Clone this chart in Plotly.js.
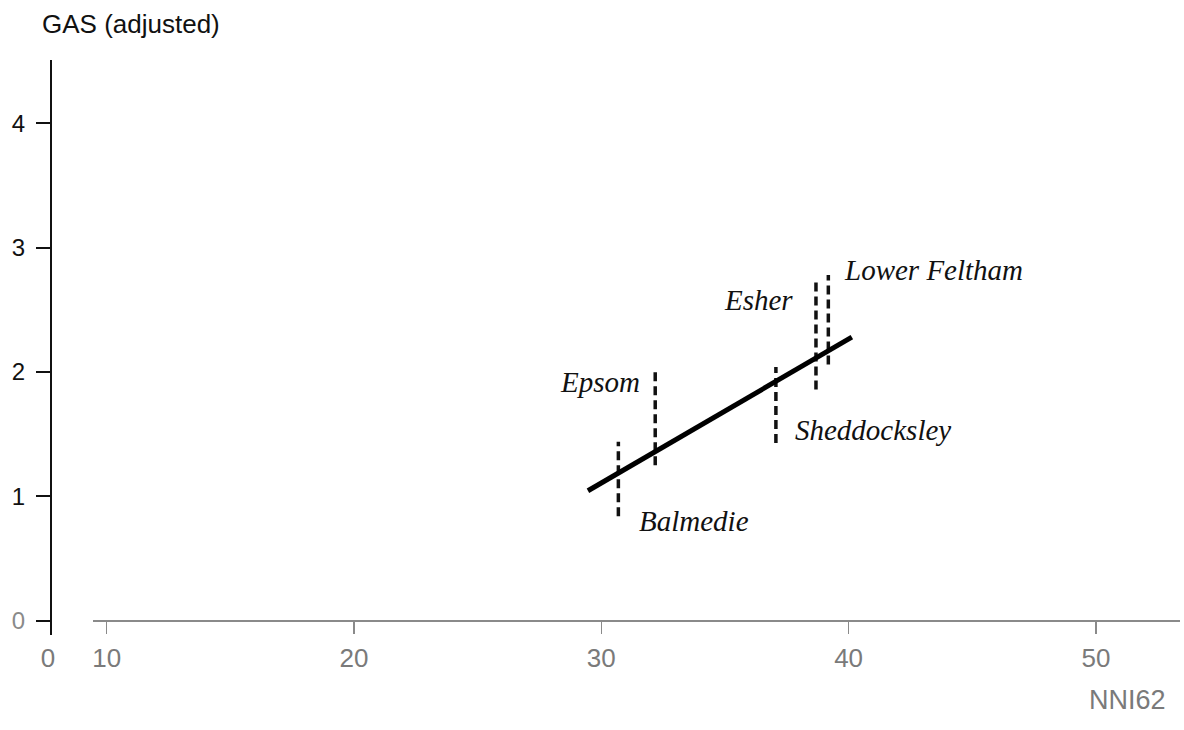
<!DOCTYPE html>
<html>
<head>
<meta charset="utf-8">
<script src="https://cdn.plot.ly/plotly-3.0.1.min.js"></script>
<style>html,body{margin:0;padding:0;background:#fff;}#chart{width:1184px;height:730px;}</style>
</head>
<body>
<div id="chart"></div>
<script>
// Regression line (NNI62 vs adjusted GAS)
const fitX = [29.46, 40.13];
const fitY = [1.045, 2.28];

// Towns: dashed vertical ranges
const towns = ["Balmedie", "Epsom", "Sheddocksley", "Esher", "Lower Feltham"];
const townX = [30.69, 32.18, 37.06, 38.68, 39.18];
const townLow = [0.84, 1.25, 1.43, 1.86, 2.06];
const townHigh = [1.44, 2.00, 2.04, 2.72, 2.78];

// Label positions for towns
const labelX = [31.44, 31.65, 37.75, 37.83, 39.75];
const labelY = [0.80, 1.92, 1.53, 2.58, 2.82];
const labelSide = ["left", "right", "left", "right", "left"];

// Axis ticks
const yTickVals = [0, 1, 2, 3, 4];
const yTickText = ['<span style="color:#8a8a8a">0</span>', "1", "2", "3", "4"];
const xTickVals = [10, 20, 30, 40, 50];
const xTickText = ["10", "20", "30", "40", "50"];
const xBreakVals = [0];
const xBreakText = ["0"];

const W = 1184, H = 730;
const px = p => p / W;
const py = p => (H - p) / H;

const segX = [], segY = [];
townX.forEach((x, i) => { segX.push(x, x, null); segY.push(townLow[i], townHigh[i], null); });

const traces = [
  { x: segX, y: segY, type: "scatter", mode: "lines", xaxis: "x", yaxis: "y",
    line: { color: "#111", width: 3.5, dash: "9px,5px" }, hoverinfo: "skip", showlegend: false },
  { x: fitX, y: fitY, type: "scatter", mode: "lines", xaxis: "x", yaxis: "y",
    line: { color: "#000", width: 5 }, hoverinfo: "skip", showlegend: false },
  { x: [0], y: [0], type: "scatter", mode: "markers", xaxis: "x2", yaxis: "y",
    marker: { opacity: 0 }, hoverinfo: "skip", showlegend: false }
];

const annotations = towns.map((t, i) => ({
  x: labelX[i], y: labelY[i], xref: "x", yref: "y", text: "<i>" + t + "</i>",
  showarrow: false, xanchor: labelSide[i], yanchor: "middle",
  font: { family: "Liberation Serif, Times New Roman, serif", size: 29, color: "#111", style: "italic" }
}));
annotations.push({
  x: px(40), y: py(24), xref: "paper", yref: "paper", text: "GAS (adjusted)",
  showarrow: false, xanchor: "left", yanchor: "middle",
  font: { family: "Liberation Sans, Arial, sans-serif", size: 26, color: "#111" }
});
annotations.push({
  x: px(1168), y: py(700), xref: "paper", yref: "paper", text: "NNI62",
  showarrow: false, xanchor: "right", yanchor: "middle",
  font: { family: "Liberation Sans, Arial, sans-serif", size: 27, color: "#7a7a7a" }
});

const layout = {
  width: W, height: H,
  margin: { l: 0, r: 0, t: 0, b: 0, pad: 0 },
  paper_bgcolor: "#fff", plot_bgcolor: "rgba(0,0,0,0)",
  showlegend: false,
  xaxis: {
    domain: [px(92.7), px(1180)], range: [9.434, 53.40],
    anchor: "free", position: py(620.7),
    showgrid: false, zeroline: false, showline: true, linecolor: "#8a8a8a", linewidth: 2,
    ticks: "outside", ticklen: 12, tickwidth: 1.5, tickcolor: "#8a8a8a",
    tickmode: "array", tickvals: xTickVals, ticktext: xTickText,
    ticklabelstandoff: 2,
    tickfont: { family: "Liberation Sans, Arial, sans-serif", size: 26, color: "#7a7a7a" }
  },
  xaxis2: {
    domain: [px(38), px(58)], range: [-1, 1],
    anchor: "free", position: py(620.7),
    showgrid: false, zeroline: false, showline: false,
    ticks: "outside", ticklen: 12, tickcolor: "rgba(0,0,0,0)",
    tickmode: "array", tickvals: xBreakVals, ticktext: xBreakText,
    ticklabelstandoff: 2,
    tickfont: { family: "Liberation Sans, Arial, sans-serif", size: 26, color: "#7a7a7a" }
  },
  yaxis: {
    domain: [py(635), py(60)], range: [-0.115, 4.509],
    anchor: "free", position: px(51),
    showgrid: false, zeroline: false, showline: true, linecolor: "#111", linewidth: 2,
    ticks: "outside", ticklen: 14, tickwidth: 2, tickcolor: "#111",
    tickmode: "array", tickvals: yTickVals, ticktext: yTickText,
    ticklabelstandoff: 6,
    tickfont: { family: "Liberation Sans, Arial, sans-serif", size: 24, color: "#111" }
  },
  annotations: annotations
};

Plotly.newPlot("chart", traces, layout, { staticPlot: true, displayModeBar: false });
</script>
</body>
</html>
